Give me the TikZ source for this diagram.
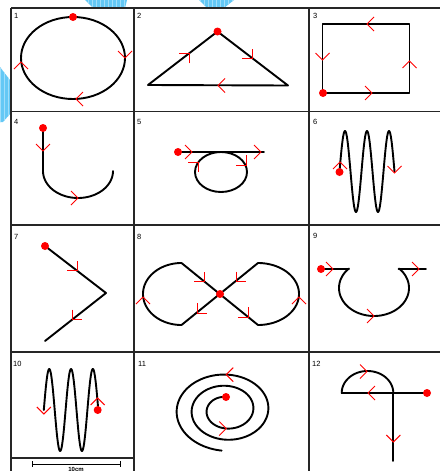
\documentclass[tikz,border=0pt]{standalone}
\usepackage{fontspec}
\setmainfont{Liberation Sans}
\definecolor{bgblue}{RGB}{100,200,245}
\definecolor{bggrid}{RGB}{160,222,250}
\newcommand\reddot[1]{\fill[red] (#1) circle [radius=4pt];}
\begin{document}
\begin{tikzpicture}[x=1pt,y=-1pt,
  blk/.style={line width=1.9pt, black, line cap=round, line join=round},
  grd/.style={line width=1.7pt, black!85},
  arr/.style={red, line width=1pt},
  lbl/.style={font=\fontsize{7.5}{8}\selectfont, anchor=west, inner sep=0pt},
  chev/.pic={\draw[arr] (-7,7)--(0,0)--(-7,-7);}
]
\useasboundingbox (0,0) rectangle (440,471);
% background fragments
\foreach \poly in {{(85,0)--(127,0)--(125,8)--(93,8)--cycle},{(199,0)--(234,0)--(224,8)--(207,8)--cycle},{(0,67)--(10,80)--(10,114)--(3,122)--(0,122)--cycle}}{
  \begin{scope}
    \clip \poly;
    \fill[bgblue] (0,0) rectangle (240,130);
    \draw[bggrid, line width=0.4pt, step=4] (0,0) grid (240,130);
  \end{scope}
}
% grid
\draw[grd] (11,8) -- (440,8);
\draw[grd] (11,111.5) -- (440,111.5);
\draw[grd] (11,225) -- (440,225);
\draw[grd] (11,352) -- (440,352);
\draw[grd] (11,458) -- (134,458);
\draw[grd] (11,8) -- (11,471);
\draw[grd] (134,8) -- (134,471);
\draw[grd] (309,8) -- (309,471);
% labels
\node[lbl] (l1) at (14,16) {1};
\node[lbl] (l2) at (137,16) {2};
\node[lbl] (l3) at (313,16) {3};
\node[lbl] (l4) at (14,122) {4};
\node[lbl] (l5) at (137,122) {5};
\node[lbl] (l6) at (313,122) {6};
\node[lbl] (l7) at (14,237) {7};
\node[lbl] (l8) at (137,237) {8};
\node[lbl] (l9) at (313,236) {9};
\node[lbl] (l10) at (13,364) {10};
\node[lbl] (l11) at (138,364) {11};
\node[lbl] (l12) at (312,364) {12};
% panel 1
\draw[blk] (73,58) ellipse [x radius=52pt, y radius=41pt];
\reddot{73,17}
\pic[rotate=-90] at (125,58) {chev};
\pic[rotate=180] at (76,99) {chev};
\pic[rotate=90] at (21,62) {chev};
% panel 2
\draw[blk] (148,85) -- (217.5,31.5) -- (288,85.5) -- cycle;
\reddot{217.5,31.5}
\pic[rotate=45] at (189,53.5) {chev};
\pic[rotate=-45] at (252,58.5) {chev};
\pic[rotate=180] at (218,85.5) {chev};
% panel 3
\draw[blk] (322.5,24) rectangle (409.5,93);
\reddot{323,93}
\pic[rotate=180] at (367,24) {chev};
\pic[rotate=90] at (409.5,61) {chev};
\pic[rotate=0] at (372,93) {chev};
\pic[rotate=-90] at (322.5,60) {chev};
% panel 4
\draw[blk] (43,128) -- (43,171) plot[domain=180:0, samples=60] ({78+35*cos(\x)},{171+27*sin(\x)});
\reddot{43,128}
\pic[rotate=-90] at (43,151) {chev};
\pic[rotate=0] at (78,198) {chev};
% panel 5
\draw[blk] (178,152) -- (264,152);
\draw[blk] (221,172) ellipse [x radius=26pt, y radius=20pt];
\reddot{178,152}
\pic[rotate=0] at (192,152) {chev};
\pic[rotate=0] at (261,152) {chev};
\pic[rotate=45] at (198,162) {chev};
\pic[rotate=-45] at (246,165) {chev};
% panel 6
\draw[blk] plot[domain=0:900, samples=180] ({339.5+\x/16.3636},{171.5-40.5*sin(\x)});
\reddot{339.5,172}
\pic[rotate=90] at (340,162) {chev};
\pic[rotate=-90] at (394.5,173) {chev};
% panel 7
\draw[blk] (45,246) -- (106,293) -- (45,341);
\reddot{45,246}
\pic[rotate=-45] at (77,270.5) {chev};
\pic[rotate=-135] at (72,319.5) {chev};
% panel 8
\draw[blk] (181.5,263) -- (258,325);
\draw[blk] (181.5,325) -- (258,263);
\draw[blk] plot[domain=90:270, samples=60] ({181.5+38.5*cos(\x)},{294+31*sin(\x)});
\draw[blk] plot[domain=-90:90, samples=60] ({258+41*cos(\x)},{294+31*sin(\x)});
\reddot{220,294}
\pic[rotate=-45] at (204,281.5) {chev};
\pic[rotate=-45] at (248,317) {chev};
\pic[rotate=-135] at (236.5,281.5) {chev};
\pic[rotate=-135] at (197,313) {chev};
\pic[rotate=90] at (143,297) {chev};
\pic[rotate=90] at (299,297) {chev};
% panel 9
\draw[blk] (321,269) -- (349,269);
\draw[blk] (398.5,269) -- (426,269);
\draw[blk] plot[domain=224:-44, samples=80] ({374+35*cos(\x)},{288+28*sin(\x)});
\reddot{321,269}
\pic[rotate=0] at (333,269) {chev};
\pic[rotate=0] at (374,316) {chev};
\pic[rotate=0] at (419,269) {chev};
% panel 10
\draw[blk] plot[domain=0:900, samples=180] ({43.8+\x/16.5138},{410-41*sin(\x)});
\reddot{97.7,410}
\pic[rotate=-90] at (43.8,414) {chev};
\pic[rotate=90] at (97.7,398) {chev};
% scale bar
\draw[line width=1pt] (32,464) -- (120,464);
\draw[line width=1pt] (32,461) -- (32,467);
\draw[line width=1pt] (120,461) -- (120,467);
\node[font=\fontsize{6}{7}\selectfont\bfseries, anchor=north, inner sep=0pt] (scale) at (76,467.5) {10cm};
% panel 11
\draw[blk] plot[domain=90:985, samples=300, smooth] ({226.25+(19.55+7.5*(\x-180)/180)*cos(\x)},{409.95-(12.95+5.6*(\x-90)/180)*sin(\x)});
\reddot{226,397}
\pic[rotate=0] at (226.25,428.5) {chev};
\pic[rotate=180] at (226.25,374.6) {chev};
% panel 12
\draw[blk] (341.7,393) -- (427,393);
\draw[blk] (393.3,393) -- (393.3,461);
\draw[blk] plot[domain=180:360, samples=60] ({367.5+25.8*cos(\x)},{393+22*sin(\x)});
\reddot{427,393}
\pic[rotate=0] at (367,371.5) {chev};
\pic[rotate=180] at (368,393) {chev};
\pic[rotate=-90] at (393.3,442) {chev};
\end{tikzpicture}
\end{document}
